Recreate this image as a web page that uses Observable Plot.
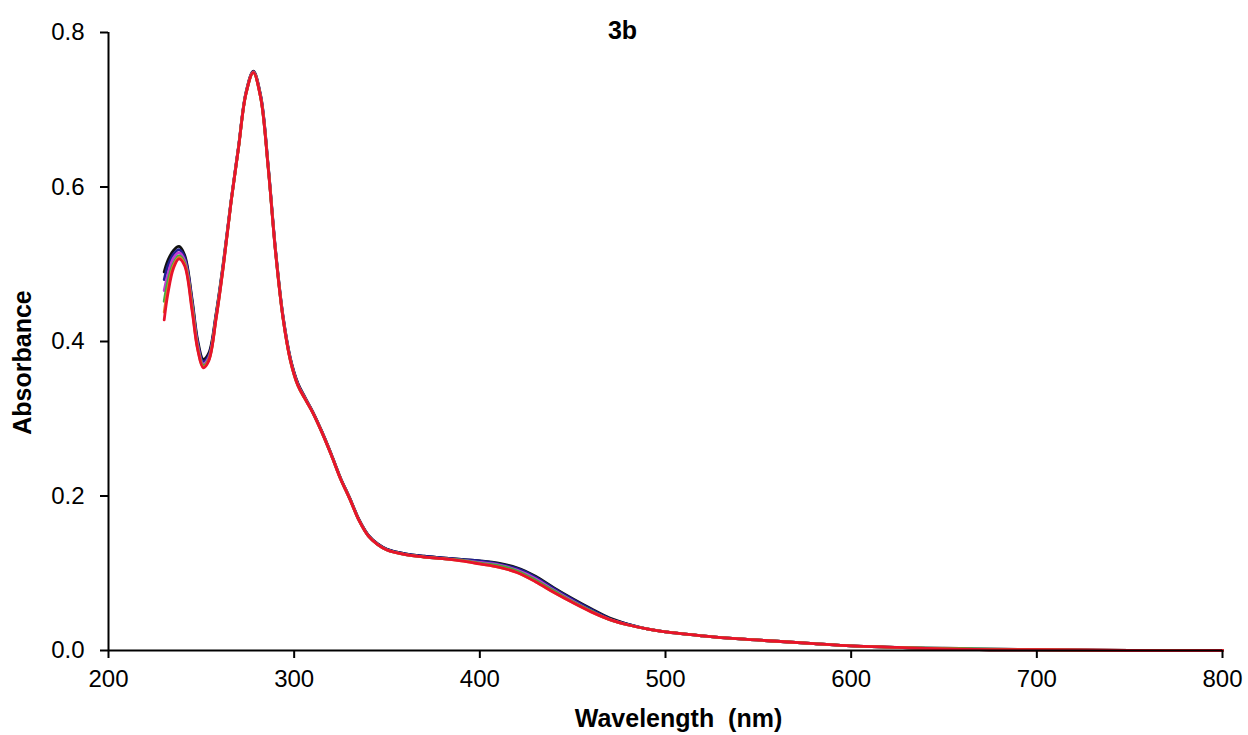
<!DOCTYPE html>
<html>
<head>
<meta charset="utf-8">
<script src="https://cdn.jsdelivr.net/npm/d3@7"></script>
<script src="https://cdn.jsdelivr.net/npm/@observablehq/plot@0.6"></script>
<style>
  html, body { margin: 0; padding: 0; background: #fff; }
  svg text { white-space: pre; }
</style>
</head>
<body>
<div id="chart"></div>
<script>
const title = "3b";
const xLabel = "Wavelength  (nm)";
const yLabel = "Absorbance";
const xTicks = [200, 300, 400, 500, 600, 700, 800];
const yTicks = [0, 0.2, 0.4, 0.6, 0.8];

const wavelengths = [230, 232, 235, 238, 241, 245, 248, 251, 254, 258, 262, 266, 270, 274, 278, 282, 286, 290, 294, 298, 302, 306, 310, 315, 320, 325, 330, 335, 340, 345, 350, 360, 370, 380, 390, 400, 410, 420, 430, 440, 450, 460, 470, 480, 490, 500, 520, 540, 560, 580, 600, 625, 650, 675, 700, 750, 800];

const seriesNames = ["s1", "s2", "s3", "s4", "s5", "s6"];
const seriesColors = ["#111111", "#1f1f8f", "#c33bd6", "#3fae3f", "#e0802a", "#e8132b"];

const s1 = [0.490, 0.505, 0.518, 0.523, 0.512, 0.455, 0.402, 0.377, 0.385, 0.437, 0.505, 0.582, 0.652, 0.722, 0.750, 0.718, 0.628, 0.518, 0.433, 0.378, 0.346, 0.327, 0.309, 0.283, 0.254, 0.223, 0.197, 0.169, 0.149, 0.138, 0.131, 0.125, 0.122, 0.120, 0.118, 0.116, 0.113, 0.107, 0.096, 0.081, 0.067, 0.054, 0.042, 0.034, 0.028, 0.024, 0.019, 0.015, 0.012, 0.009, 0.006, 0.004, 0.002, 0.001, 0.001, 0.000, 0.000];
const s2 = [0.480, 0.498, 0.513, 0.519, 0.509, 0.452, 0.399, 0.374, 0.382, 0.435, 0.503, 0.581, 0.651, 0.721, 0.749, 0.717, 0.627, 0.517, 0.432, 0.377, 0.345, 0.326, 0.309, 0.283, 0.254, 0.223, 0.197, 0.169, 0.149, 0.138, 0.131, 0.125, 0.122, 0.120, 0.118, 0.116, 0.112, 0.106, 0.095, 0.080, 0.066, 0.053, 0.041, 0.034, 0.028, 0.024, 0.019, 0.015, 0.012, 0.009, 0.006, 0.004, 0.002, 0.001, 0.001, 0.000, 0.000];
const s3 = [0.466, 0.487, 0.508, 0.515, 0.505, 0.449, 0.396, 0.371, 0.379, 0.433, 0.502, 0.581, 0.651, 0.721, 0.749, 0.716, 0.626, 0.516, 0.431, 0.376, 0.344, 0.326, 0.308, 0.282, 0.253, 0.222, 0.196, 0.168, 0.148, 0.137, 0.130, 0.124, 0.121, 0.119, 0.117, 0.114, 0.111, 0.104, 0.093, 0.078, 0.064, 0.051, 0.040, 0.033, 0.028, 0.024, 0.019, 0.015, 0.012, 0.009, 0.006, 0.004, 0.003, 0.002, 0.001, 0.000, 0.000];
const s4 = [0.452, 0.478, 0.501, 0.511, 0.502, 0.446, 0.393, 0.369, 0.377, 0.432, 0.501, 0.580, 0.650, 0.720, 0.748, 0.715, 0.625, 0.515, 0.430, 0.375, 0.343, 0.325, 0.308, 0.282, 0.253, 0.222, 0.196, 0.168, 0.148, 0.137, 0.130, 0.124, 0.121, 0.119, 0.117, 0.113, 0.110, 0.103, 0.091, 0.077, 0.063, 0.051, 0.040, 0.033, 0.028, 0.024, 0.019, 0.015, 0.012, 0.009, 0.006, 0.004, 0.003, 0.002, 0.001, 0.000, 0.000];
const s5 = [0.438, 0.468, 0.498, 0.509, 0.500, 0.443, 0.391, 0.367, 0.376, 0.431, 0.500, 0.580, 0.650, 0.720, 0.748, 0.715, 0.625, 0.515, 0.430, 0.375, 0.343, 0.325, 0.308, 0.282, 0.253, 0.222, 0.196, 0.168, 0.148, 0.137, 0.130, 0.124, 0.121, 0.119, 0.116, 0.112, 0.108, 0.101, 0.089, 0.075, 0.062, 0.050, 0.040, 0.033, 0.028, 0.024, 0.019, 0.015, 0.012, 0.009, 0.006, 0.004, 0.002, 0.001, 0.001, 0.000, 0.000];
const s6 = [0.428, 0.462, 0.495, 0.507, 0.498, 0.440, 0.390, 0.366, 0.375, 0.430, 0.500, 0.580, 0.650, 0.720, 0.748, 0.715, 0.625, 0.515, 0.430, 0.375, 0.343, 0.325, 0.308, 0.282, 0.253, 0.222, 0.196, 0.168, 0.148, 0.137, 0.130, 0.124, 0.121, 0.119, 0.116, 0.112, 0.108, 0.101, 0.089, 0.075, 0.062, 0.050, 0.040, 0.033, 0.028, 0.024, 0.019, 0.015, 0.012, 0.009, 0.006, 0.004, 0.002, 0.001, 0.001, 0.000, 0.000];

const allSeries = [s1, s2, s3, s4, s5, s6];
const data = [];
allSeries.forEach((vals, i) => {
  vals.forEach((v, j) => data.push({wl: wavelengths[j], a: v, series: seriesNames[i]}));
});

const fontFamily = "Liberation Sans, Arial, sans-serif";

const chart = Plot.plot({
  width: 1248,
  height: 735,
  marginLeft: 108,
  marginRight: 26,
  marginTop: 32,
  marginBottom: 85,
  style: {fontFamily, fontSize: "24px", color: "#000", background: "#fff"},
  x: {domain: [200, 800], ticks: xTicks, label: null},
  y: {domain: [0, 0.8], ticks: yTicks, label: null},
  color: {domain: seriesNames, range: seriesColors},
  marks: [
    Plot.line(data, {x: "wl", y: "a", z: "series", stroke: "series", strokeWidth: 2.8, curve: "catmull-rom"}),
    Plot.ruleY([0], {stroke: "#000", strokeWidth: 2}),
    Plot.ruleX([200], {stroke: "#000", strokeWidth: 2}),
    Plot.axisX({ticks: xTicks, tickSize: 8, tickPadding: 11, tickFormat: d3.format("d"), label: null, strokeWidth: 2, fontSize: 24}),
    Plot.axisY({ticks: yTicks, tickSize: 8, tickPadding: 16, tickFormat: d3.format(".1f"), label: null, strokeWidth: 2, fontSize: 24}),
    Plot.text([title], {frameAnchor: "top", lineAnchor: "middle", dx: -43, dy: -2, text: d => d, fontWeight: "bold", fontSize: 25}),
    Plot.text([yLabel], {frameAnchor: "left", textAnchor: "middle", lineAnchor: "middle", rotate: -90, dx: -86, dy: 21, text: d => d, fontWeight: "bold", fontSize: 25}),
    Plot.text([xLabel], {frameAnchor: "bottom", lineAnchor: "middle", dx: 13, dy: 68, text: d => d, fontWeight: "bold", fontSize: 25})
  ]
});
document.getElementById("chart").appendChild(chart);
</script>
</body>
</html>
